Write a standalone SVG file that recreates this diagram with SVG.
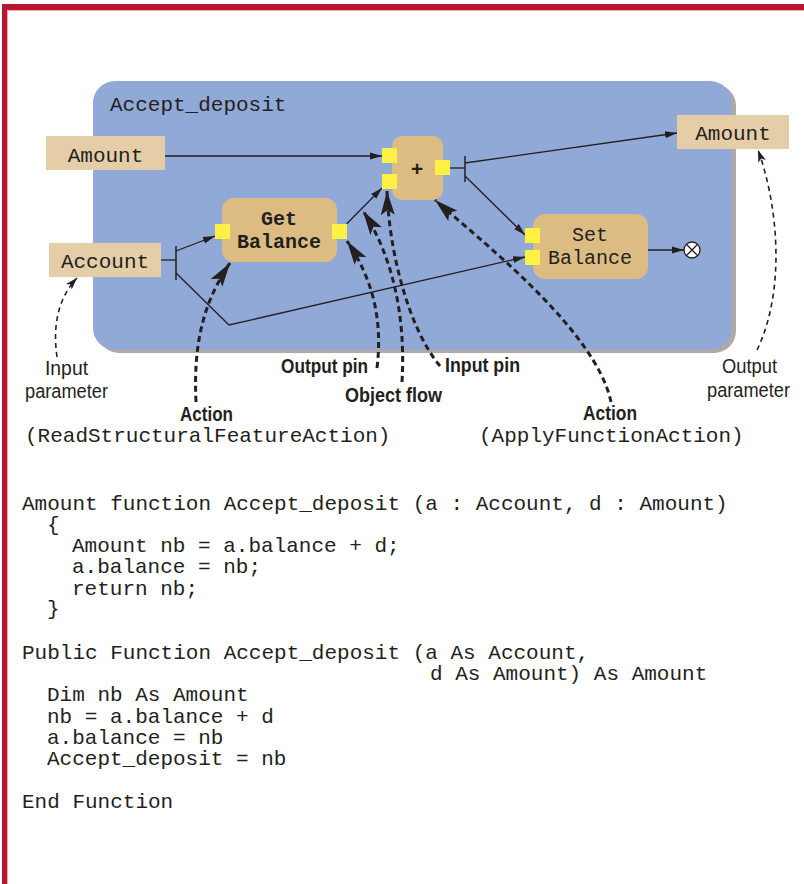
<svg xmlns="http://www.w3.org/2000/svg" width="804" height="884" viewBox="0 0 804 884">
  <style>
    .mono { font-family: "Liberation Mono", "DejaVu Sans Mono", monospace; font-size: 21px; fill: #231f20; }
    .node { font-size: 20px; }
    .bold { font-weight: bold; }
    .lbl { font-family: "Liberation Sans", Arial, sans-serif; font-size: 20px; fill: #231f20; }
    .lblb { font-family: "Liberation Sans", Arial, sans-serif; font-size: 20px; font-weight: bold; fill: #231f20; }
    .param { fill: #e4cda7; }
    .action { fill: #ddbc83; }
    .pin { fill: #fff143; }
    .flow { fill: none; stroke: #231f20; stroke-width: 1.3; }
    .flowA { fill: none; stroke: #231f20; stroke-width: 1.3; marker-end: url(#arrow); }
    .bar { stroke: #231f20; stroke-width: 1.5; }
    .callout { fill: none; stroke: #231f20; stroke-width: 3; stroke-dasharray: 6 4; marker-end: url(#bigArrow); }
    .thin { fill: none; stroke: #231f20; stroke-width: 1.6; stroke-dasharray: 5 4; marker-end: url(#smallArrow); }
  </style>
  <defs>
    <marker id="arrow" markerUnits="userSpaceOnUse" markerWidth="12" markerHeight="8" refX="12" refY="4" orient="auto">
      <path d="M0,0.5 L12,4 L0,7.5 z" fill="#231f20"/>
    </marker>
    <marker id="bigArrow" markerUnits="userSpaceOnUse" markerWidth="24" markerHeight="14" refX="24" refY="7" orient="auto">
      <path d="M0,0 L24,7 L0,14 L5,7 z" fill="#231f20"/>
    </marker>
    <marker id="smallArrow" markerUnits="userSpaceOnUse" markerWidth="12" markerHeight="8" refX="12" refY="4" orient="auto">
      <path d="M0,0 L12,4 L0,8 L3,4 z" fill="#231f20"/>
    </marker>
  </defs>

  <rect width="804" height="884" fill="#ffffff"/>

  <!-- page frame -->
  <g id="frame">
    <rect x="2" y="4" width="802" height="6" fill="#b5182f"/>
    <rect x="2" y="4" width="5" height="880" fill="#b5182f"/>
    <line x1="7.5" y1="10.5" x2="804" y2="10.5" stroke="#f2a5b0" stroke-width="1"/>
    <line x1="7.5" y1="10.5" x2="7.5" y2="884" stroke="#f2a5b0" stroke-width="1"/>
  </g>

  <!-- activity container -->
  <g id="activity">
    <rect x="97" y="84" width="639" height="269" rx="22" fill="#b3a8a4"/>
    <rect x="93" y="81" width="639" height="269" rx="22" fill="#91a9d6"/>
    <text class="mono" x="110" y="111">Accept_deposit</text>
  </g>

  <!-- connectors -->
  <g id="connectors">
    <!-- Amount -> + -->
    <line class="flowA" x1="165" y1="156" x2="382" y2="156"/>
    <!-- Account fork -->
    <line class="flow" x1="161" y1="260" x2="176" y2="260"/>
    <line class="bar" x1="176" y1="246" x2="176" y2="280"/>
    <line class="flowA" x1="176" y1="251" x2="215" y2="236"/>
    <polyline class="flowA" points="176,273 229,325 525,257"/>
    <!-- Get Balance -> + -->
    <line class="flowA" x1="346.5" y1="224" x2="382" y2="188"/>
    <!-- + output fork -->
    <line class="flow" x1="450" y1="168" x2="465" y2="168"/>
    <line class="bar" x1="465" y1="156" x2="465" y2="182"/>
    <line class="flowA" x1="465" y1="163" x2="677" y2="133"/>
    <line class="flowA" x1="465" y1="176" x2="525" y2="235"/>
    <!-- Set Balance -> final -->
    <line class="flowA" x1="648" y1="250" x2="684" y2="250"/>
  </g>

  <!-- parameter nodes -->
  <g id="param-amount-in">
    <rect class="param" x="46" y="136" width="119" height="34"/>
    <text class="mono" x="105.5" y="162" text-anchor="middle">Amount</text>
  </g>
  <g id="param-account">
    <rect class="param" x="49" y="243" width="112" height="34"/>
    <text class="mono" x="105" y="268" text-anchor="middle">Account</text>
  </g>
  <g id="param-amount-out">
    <rect class="param" x="677" y="115" width="112" height="34"/>
    <text class="mono" x="733" y="140" text-anchor="middle">Amount</text>
  </g>

  <!-- action nodes -->
  <g id="get-balance">
    <rect class="action" x="222" y="198" width="115" height="64" rx="12"/>
    <text class="mono node bold" x="279" y="225" text-anchor="middle">Get</text>
    <text class="mono node bold" x="279" y="248" text-anchor="middle">Balance</text>
    <rect class="pin" x="215" y="224" width="15" height="15"/>
    <rect class="pin" x="332" y="224" width="15" height="15"/>
  </g>
  <g id="plus">
    <rect class="action" x="392" y="136" width="51" height="64" rx="10"/>
    <text class="mono bold" x="417" y="176" text-anchor="middle">+</text>
    <rect class="pin" x="382" y="148" width="15" height="15"/>
    <rect class="pin" x="382" y="174" width="15" height="15"/>
    <rect class="pin" x="435" y="160" width="15" height="15"/>
  </g>
  <g id="set-balance">
    <rect class="action" x="533" y="214" width="115" height="65" rx="12"/>
    <text class="mono node" x="590" y="241" text-anchor="middle">Set</text>
    <text class="mono node" x="590" y="264" text-anchor="middle">Balance</text>
    <rect class="pin" x="525" y="228" width="15" height="15"/>
    <rect class="pin" x="525" y="250" width="15" height="15"/>
  </g>
  <g id="flow-final">
    <circle cx="692" cy="250" r="8" fill="#ffffff" stroke="#231f20" stroke-width="1.3"/>
    <line x1="686.3" y1="244.3" x2="697.7" y2="255.7" stroke="#231f20" stroke-width="1.3"/>
    <line x1="697.7" y1="244.3" x2="686.3" y2="255.7" stroke="#231f20" stroke-width="1.3"/>
  </g>

  <!-- annotation leaders -->
  <g id="callouts">
    <path class="thin" d="M57,357 C52,322 60,296 77,278"/>
    <path class="thin" d="M757,350 C786,290 778,205 758,150"/>
    <path class="callout" d="M196,402 C193,340 205,300 230,263"/>
    <path class="callout" d="M377,368 C383,318 372,278 347,241"/>
    <path class="callout" d="M402,382 C406,315 392,255 363,211"/>
    <path class="callout" d="M440,366 C408,328 389,250 387,191"/>
    <path class="callout" d="M611,402 C596,330 480,240 435,200"/>
  </g>

  <!-- annotation labels -->
  <g id="labels">
    <text class="lbl" x="45" y="375" textLength="43" lengthAdjust="spacingAndGlyphs">Input</text>
    <text class="lbl" x="25" y="398" textLength="83" lengthAdjust="spacingAndGlyphs">parameter</text>
    <text class="lblb" x="180" y="421" textLength="53" lengthAdjust="spacingAndGlyphs">Action</text>
    <text class="mono" x="25" y="442">(ReadStructuralFeatureAction)</text>
    <text class="lblb" x="281" y="373" textLength="87" lengthAdjust="spacingAndGlyphs">Output pin</text>
    <text class="lblb" x="345" y="402" textLength="97" lengthAdjust="spacingAndGlyphs">Object flow</text>
    <text class="lblb" x="445" y="372" textLength="75" lengthAdjust="spacingAndGlyphs">Input pin</text>
    <text class="lblb" x="583" y="420" textLength="54" lengthAdjust="spacingAndGlyphs">Action</text>
    <text class="mono" x="479" y="442">(ApplyFunctionAction)</text>
    <text class="lbl" x="722" y="373" textLength="55" lengthAdjust="spacingAndGlyphs">Output</text>
    <text class="lbl" x="707" y="397" textLength="83" lengthAdjust="spacingAndGlyphs">parameter</text>
  </g>

  <!-- equivalent source code -->
  <g id="code">
    <text class="mono" x="22" y="510">Amount function Accept_deposit (a : Account, d : Amount)</text>
    <text class="mono" x="47" y="531">{</text>
    <text class="mono" x="72" y="552">Amount nb = a.balance + d;</text>
    <text class="mono" x="72" y="573">a.balance = nb;</text>
    <text class="mono" x="72" y="595">return nb;</text>
    <text class="mono" x="47" y="615">}</text>
    <text class="mono" x="22" y="659">Public Function Accept_deposit (a As Account,</text>
    <text class="mono" x="430" y="680">d As Amount) As Amount</text>
    <text class="mono" x="47" y="701">Dim nb As Amount</text>
    <text class="mono" x="47" y="723">nb = a.balance + d</text>
    <text class="mono" x="47" y="744">a.balance = nb</text>
    <text class="mono" x="47" y="765">Accept_deposit = nb</text>
    <text class="mono" x="22" y="808">End Function</text>
  </g>
</svg>
